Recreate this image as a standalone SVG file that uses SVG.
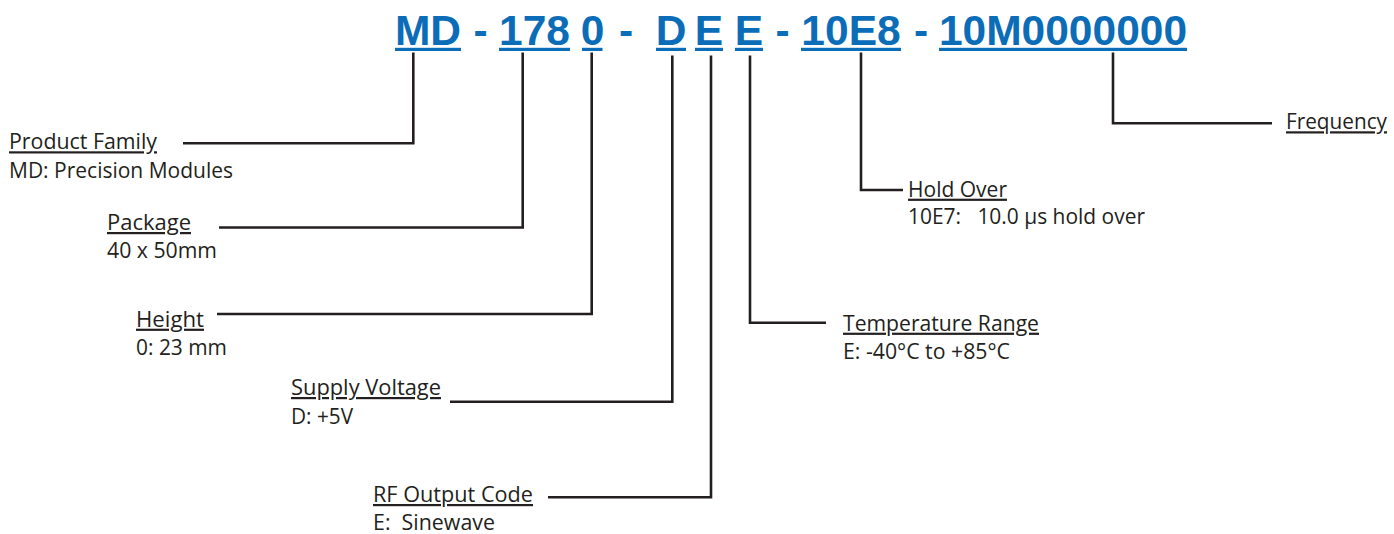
<svg xmlns="http://www.w3.org/2000/svg" width="1394" height="534" viewBox="0 0 1394 534">
<style>
.code{font-family:"Liberation Sans",Arial,sans-serif;font-weight:bold;font-size:42.5px;fill:#0b6cb8;text-anchor:middle}
.ul{fill:#0b6cb8}
.lbl{font-family:"Open Sans","Noto Sans",sans-serif;font-size:22px;fill:#231f20;text-decoration:underline}
.val{font-family:"Open Sans","Noto Sans",sans-serif;font-size:22px;fill:#231f20}
.conn{fill:none;stroke:#231f20;stroke-width:2.6;stroke-linejoin:miter;stroke-linecap:butt}
</style>
<rect width="1394" height="534" fill="#ffffff"/>
<g id="code">
<text class="code" x="428" y="45">MD</text>
<rect class="ul" x="395" y="47.8" width="66" height="3.2"/>
<text class="code" x="480.5" y="45">-</text>
<text class="code" x="534.5" y="45">178</text>
<rect class="ul" x="499" y="47.8" width="71" height="3.2"/>
<text class="code" x="592.5" y="45">0</text>
<rect class="ul" x="582" y="47.8" width="20.5" height="3.2"/>
<text class="code" x="626" y="45">-</text>
<text class="code" x="671" y="45">D</text>
<rect class="ul" x="656" y="47.8" width="30" height="3.2"/>
<text class="code" x="709" y="45">E</text>
<rect class="ul" x="695" y="47.8" width="28" height="3.2"/>
<text class="code" x="749" y="45">E</text>
<rect class="ul" x="735" y="47.8" width="28" height="3.2"/>
<text class="code" x="782.5" y="45">-</text>
<text class="code" x="851" y="45">10E8</text>
<rect class="ul" x="801" y="47.8" width="100" height="3.2"/>
<text class="code" x="921" y="45">-</text>
<text class="code" x="1063" y="45">10M0000000</text>
<rect class="ul" x="939" y="47.8" width="248" height="3.2"/>
</g>
<g id="connectors">
<polyline class="conn" points="413.3,52.5 413.3,143.3 183,143.3"/>
<polyline class="conn" points="522.7,52.5 522.7,227.5 219,227.5"/>
<polyline class="conn" points="591.7,52.5 591.7,314 217,314"/>
<polyline class="conn" points="672.3,55.5 672.3,401.7 450,401.7"/>
<polyline class="conn" points="711,55.5 711,497.3 548,497.3"/>
<polyline class="conn" points="750,55.5 750,322.7 826,322.7"/>
<polyline class="conn" points="861,52.5 861,190 903,190"/>
<polyline class="conn" points="1113,52.5 1113,123.3 1272,123.3"/>
</g>
<g id="product-family">
<text class="lbl" x="9" y="149.3" textLength="148" lengthAdjust="spacingAndGlyphs">Product Family</text>
<text class="val" x="9" y="178" textLength="224" lengthAdjust="spacingAndGlyphs">MD: Precision Modules</text>
</g>
<g id="package">
<text class="lbl" x="107" y="230" textLength="84" lengthAdjust="spacingAndGlyphs">Package</text>
<text class="val" x="107" y="258" textLength="110" lengthAdjust="spacingAndGlyphs">40 x 50mm</text>
</g>
<g id="height">
<text class="lbl" x="136" y="326.7" textLength="68" lengthAdjust="spacingAndGlyphs">Height</text>
<text class="val" x="136" y="355" textLength="91" lengthAdjust="spacingAndGlyphs">0: 23 mm</text>
</g>
<g id="supply-voltage">
<text class="lbl" x="291" y="395" textLength="150" lengthAdjust="spacingAndGlyphs">Supply Voltage</text>
<text class="val" x="291" y="424" textLength="62" lengthAdjust="spacingAndGlyphs">D: +5V</text>
</g>
<g id="rf-output">
<text class="lbl" x="373" y="502" textLength="160" lengthAdjust="spacingAndGlyphs">RF Output Code</text>
<text class="val" x="373" y="530" xml:space="preserve" textLength="122" lengthAdjust="spacingAndGlyphs">E:  Sinewave</text>
</g>
<g id="temperature">
<text class="lbl" x="843" y="330.7" textLength="196" lengthAdjust="spacingAndGlyphs">Temperature Range</text>
<text class="val" x="843" y="359" textLength="167" lengthAdjust="spacingAndGlyphs">E: -40°C to +85°C</text>
</g>
<g id="hold-over">
<text class="lbl" x="908" y="196.7" textLength="99" lengthAdjust="spacingAndGlyphs">Hold Over</text>
<text class="val" x="908" y="224.3" xml:space="preserve" textLength="237" lengthAdjust="spacingAndGlyphs">10E7:   10.0 µs hold over</text>
</g>
<g id="frequency">
<text class="lbl" x="1286" y="129.3" textLength="101" lengthAdjust="spacingAndGlyphs">Frequency</text>
</g>
</svg>
